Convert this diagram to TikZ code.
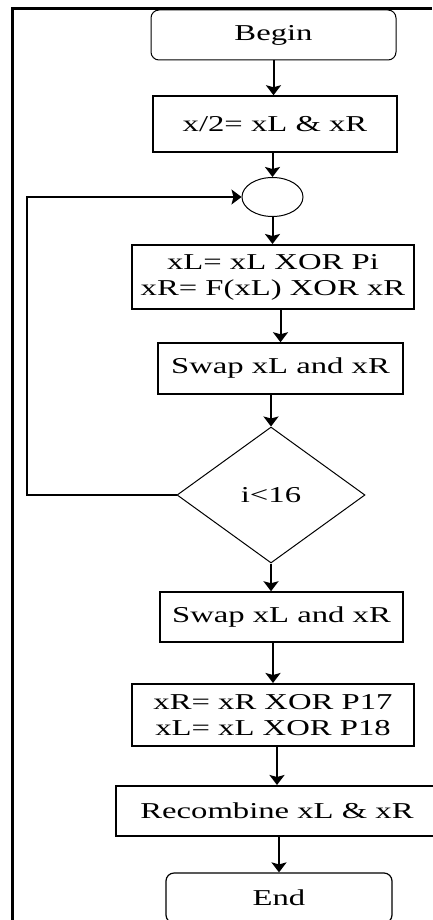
\documentclass[tikz,border=0pt]{standalone}
\usepackage{fontspec}
\setmainfont[FakeStretch=1.44]{Liberation Serif}
\usetikzlibrary{shapes.geometric,arrows.meta,positioning}

\begin{document}
\begin{tikzpicture}[x=1pt, y=-1pt,
    font=\fontsize{22.7}{26}\selectfont,
    box/.style={draw, line width=1.5pt, inner sep=0pt, align=center},
    term/.style={draw, line width=1.2pt, rounded corners=8pt, inner sep=0pt},
    arr/.style={-{Stealth[length=10pt, width=15pt, inset=2pt]}, line width=2pt}]
    \useasboundingbox (0,0) rectangle (432,920);

    % frame
    \draw[line width=3pt] (432,8.5) -- (12.5,8.5) -- (12.5,920);

    \node[term, line width=1pt, minimum width=245pt, minimum height=50pt] (begin) at (273.5,35) {Begin};
    \node[box, minimum width=244pt, minimum height=56pt] (split) at (275,124) {x/2= xL \& xR};
    \node[draw, ellipse, line width=1pt, minimum width=61pt, minimum height=39pt] (join) at (272.5,197) {};
    \node[box, line width=2pt, minimum width=282pt, minimum height=64pt] (round) at (273,277) {xL= xL XOR Pi\\xR= F(xL) XOR xR};
    \node[box, minimum width=245pt, minimum height=51pt] (swapa) at (280.5,368.5) {Swap xL and xR};
    \node[draw, diamond, line width=1pt, inner sep=0pt, minimum width=188pt, minimum height=136pt] (test) at (271,495) {i<16};
    \node[box, minimum width=243pt, minimum height=50pt] (swapb) at (281.5,617) {Swap xL and xR};
    \node[box, line width=2pt, minimum width=282pt, minimum height=62pt] (final) at (273,715) {xR= xR XOR P17\\xL= xL XOR P18};
    \node[box, line width=2pt, minimum width=322pt, minimum height=50pt] (recomb) at (277,811) {Recombine xL \& xR};
    \node[term, minimum width=226pt, minimum height=50pt] (end) at (279,898) {End};

    \draw[arr] (begin.south) -- (begin.south |- split.north);
    \draw[arr] (split.south -| join.north) -- (join.north);
    \draw[arr] (join.south) -- (join.south |- round.north);
    \draw[arr] (round.south -| swapa.north) -- (swapa.north);
    \draw[arr] (swapa.south -| test.north) -- (test.north);
    \draw[arr] (test.south) -- (test.south |- swapb.north);
    \draw[arr] (swapb.south -| final.north) -- (final.north);
    \draw[arr] (final.south -| recomb.north) -- (recomb.north);
    \draw[arr] (recomb.south -| end.north) -- (end.north);

    % loop back
    \coordinate (back) at (27,495);
    \draw[arr, line width=1.5pt] (test.west) -- (back) |- (join.west);
\end{tikzpicture}
\end{document}
